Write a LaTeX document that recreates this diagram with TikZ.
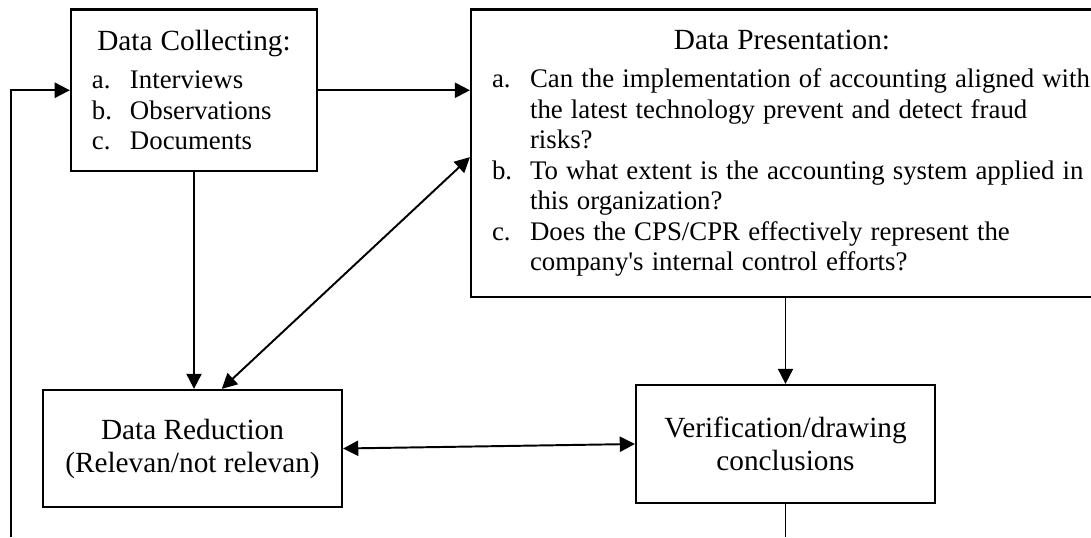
\documentclass[tikz,border=0pt]{standalone}
\usepackage{fontspec}
\setmainfont{Liberation Serif}
\usetikzlibrary{arrows.meta}
\hfuzz=40pt
\newcommand{\boxtitle}[1]{\vspace*{3.2pt}{\fontsize{12}{14}\selectfont\centering #1\par}\fontsize{11}{12.5}\selectfont}
\newcommand{\qitem}[2]{\noindent\makebox[15.6pt][l]{#1}\mbox{#2}\par}
\newcommand{\qline}[1]{\noindent\hspace*{15.6pt}\mbox{#1}\par}

\begin{document}
\begin{tikzpicture}[x=0.41pt,y=-0.41pt,
    box/.style={draw, line width=0.9pt, inner xsep=8.6pt, inner ysep=0pt},
    stagebox/.style={box, align=center, font=\fontsize{12}{13.5}\selectfont,
        minimum width=122.6pt},
    arr/.style={line width=0.8pt, -{Triangle[length=6.2pt,width=6.2pt]}},
    darr/.style={line width=0.8pt, {Triangle[length=6.2pt,width=6.2pt]}-{Triangle[length=6.2pt,width=6.2pt]}}]
\useasboundingbox (0,0) rectangle (1091,537);
% boxes
\node[box, minimum width=100.9pt, minimum height=66.2pt, text width=83.7pt] (col) at (194,90.25) {%
    \boxtitle{Data Collecting:}
    \qitem{a.}{Interviews}
    \qitem{b.}{Observations}
    \qitem{c.}{Documents}};
\node[box, minimum width=255pt, minimum height=117.9pt, text width=237.8pt] (pres) at (782,153.25) {%
    \boxtitle{Data Presentation:}
    \qitem{a.}{Can the implementation of accounting aligned with}
    \qline{the latest technology prevent and detect fraud}
    \qline{risks?}
    \qitem{b.}{To what extent is the accounting system applied in}
    \qline{this organization?}
    \qitem{c.}{Does the CPS/CPR effectively represent the}
    \qline{company\textquotesingle s internal control efforts?}};
\node[stagebox, minimum height=48pt] (red) at (192.5,448.5) {Data Reduction\\(Relevan/not relevan)};
\node[stagebox, minimum height=48.4pt] (ver) at (785.5,444) {Verification/drawing\\conclusions};
% loose ends at the bottom border
\coordinate (fb) at (11,537);
% connectors
\draw[arr] (fb) |- (col.west);
\draw[arr] (col.east) -- (col.east -| pres.west);
\draw[arr] (col.south) -- (col.south |- red.north);
\draw[darr] ([xshift=12pt]red.north) -- ([yshift=-1.6pt]pres.west);
\draw[arr] (pres.south -| ver.north) -- (ver.north);
\draw[darr] (red.east) -- (ver.west);
\draw[line width=0.8pt] (ver.south) -- (ver.south |- fb);
\end{tikzpicture}
\end{document}
